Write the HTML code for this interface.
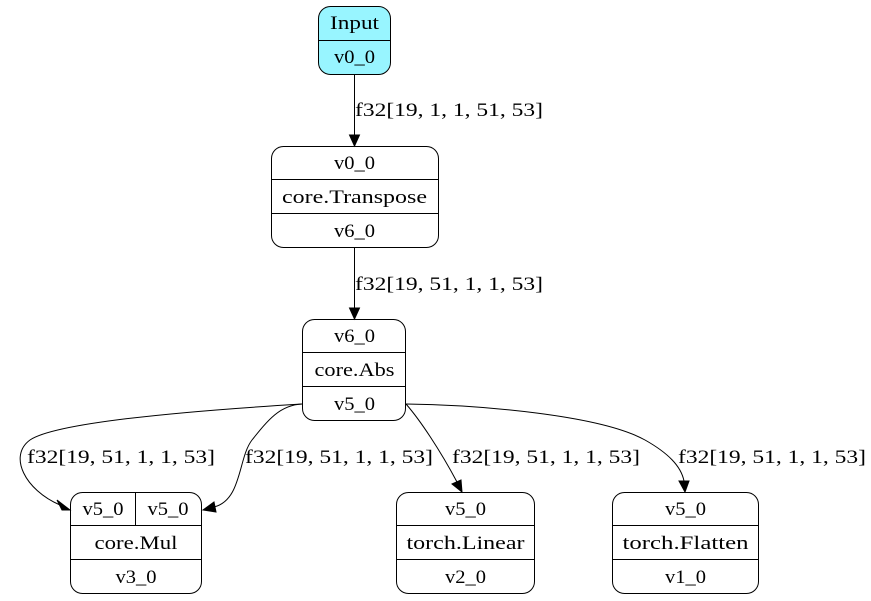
<!DOCTYPE html>
<html><head><meta charset="utf-8"><style>
html,body{margin:0;padding:0;background:#fff;}
svg{display:block;}
text{font-family:"Liberation Serif","DejaVu Serif",serif;font-size:19px;fill:#000;}
</style></head><body>
<svg width="871" height="601" viewBox="0 0 871 601" xmlns="http://www.w3.org/2000/svg">
<g fill="none" stroke="#000" stroke-width="1">
<rect x="318.5" y="6.5" width="72" height="68" rx="12" fill="#98f5ff"/>
<line x1="318.5" y1="40.5" x2="390.5" y2="40.5"/>
<rect x="271.5" y="146.5" width="167" height="101" rx="12" fill="#fff"/>
<line x1="271.5" y1="179.5" x2="438.5" y2="179.5"/>
<line x1="271.5" y1="213.5" x2="438.5" y2="213.5"/>
<rect x="302.5" y="319.5" width="103" height="101" rx="12" fill="#fff"/>
<line x1="302.5" y1="352.5" x2="405.5" y2="352.5"/>
<line x1="302.5" y1="386.5" x2="405.5" y2="386.5"/>
<rect x="70.5" y="492.5" width="131" height="101" rx="12" fill="#fff"/>
<line x1="70.5" y1="525.5" x2="201.5" y2="525.5"/>
<line x1="70.5" y1="559.5" x2="201.5" y2="559.5"/>
<line x1="135.5" y1="492.5" x2="135.5" y2="525.5"/>
<rect x="396.5" y="492.5" width="138" height="101" rx="12" fill="#fff"/>
<line x1="396.5" y1="525.5" x2="534.5" y2="525.5"/>
<line x1="396.5" y1="559.5" x2="534.5" y2="559.5"/>
<rect x="612.5" y="492.5" width="146" height="101" rx="12" fill="#fff"/>
<line x1="612.5" y1="525.5" x2="758.5" y2="525.5"/>
<line x1="612.5" y1="559.5" x2="758.5" y2="559.5"/>
<path d="M354.5,75 L354.5,135"/>
<path d="M354.5,248 L354.5,308"/>
<path d="M302,404 C220,409 60,420 30,440 C8,456 25,490 60,505"/>
<path d="M302,404 C280,405 268,420 252,440 C238,458 242,500 214,507"/>
<path d="M406,404 C420,420 440,450 457,482"/>
<path d="M406,404 C480,405 600,415 645,440 C668,453 681,466 684,481"/>
</g>
<g fill="#000" stroke="#000">
<polygon points="349.5,135 359.5,135 354.5,146"/>
<polygon points="349.5,308 359.5,308 354.5,319"/>
<polygon points="57,500 62,510 70,510"/>
<polygon points="214,502 216,512 203,510"/>
<polygon points="452,484 461,480 462,492"/>
<polygon points="679,481 689,481 685,492"/>
</g>
<g text-anchor="middle">
<text x="354.5" y="29" textLength="49" lengthAdjust="spacingAndGlyphs">Input</text>
<text x="354.5" y="63" textLength="41" lengthAdjust="spacingAndGlyphs">v0_0</text>
<text x="354.5" y="169" textLength="41" lengthAdjust="spacingAndGlyphs">v0_0</text>
<text x="354.5" y="203" textLength="145" lengthAdjust="spacingAndGlyphs">core.Transpose</text>
<text x="354.5" y="237" textLength="41" lengthAdjust="spacingAndGlyphs">v6_0</text>
<text x="354.5" y="342" textLength="41" lengthAdjust="spacingAndGlyphs">v6_0</text>
<text x="354.5" y="376" textLength="80" lengthAdjust="spacingAndGlyphs">core.Abs</text>
<text x="354.5" y="410" textLength="41" lengthAdjust="spacingAndGlyphs">v5_0</text>
<text x="103" y="515" textLength="41" lengthAdjust="spacingAndGlyphs">v5_0</text>
<text x="168" y="515" textLength="41" lengthAdjust="spacingAndGlyphs">v5_0</text>
<text x="136" y="549" textLength="83" lengthAdjust="spacingAndGlyphs">core.Mul</text>
<text x="136" y="583" textLength="41" lengthAdjust="spacingAndGlyphs">v3_0</text>
<text x="465.5" y="515" textLength="41" lengthAdjust="spacingAndGlyphs">v5_0</text>
<text x="465.5" y="549" textLength="118" lengthAdjust="spacingAndGlyphs">torch.Linear</text>
<text x="465.5" y="583" textLength="41" lengthAdjust="spacingAndGlyphs">v2_0</text>
<text x="685.5" y="515" textLength="41" lengthAdjust="spacingAndGlyphs">v5_0</text>
<text x="685.5" y="549" textLength="126" lengthAdjust="spacingAndGlyphs">torch.Flatten</text>
<text x="685.5" y="583" textLength="41" lengthAdjust="spacingAndGlyphs">v1_0</text>
</g>
<text x="355" y="116" textLength="188" lengthAdjust="spacingAndGlyphs">f32[19, 1, 1, 51, 53]</text>
<text x="355" y="290" textLength="188" lengthAdjust="spacingAndGlyphs">f32[19, 51, 1, 1, 53]</text>
<text x="27" y="463" textLength="188" lengthAdjust="spacingAndGlyphs">f32[19, 51, 1, 1, 53]</text>
<text x="245" y="463" textLength="188" lengthAdjust="spacingAndGlyphs">f32[19, 51, 1, 1, 53]</text>
<text x="452" y="463" textLength="188" lengthAdjust="spacingAndGlyphs">f32[19, 51, 1, 1, 53]</text>
<text x="678" y="463" textLength="188" lengthAdjust="spacingAndGlyphs">f32[19, 51, 1, 1, 53]</text>
</svg>
</body></html>
